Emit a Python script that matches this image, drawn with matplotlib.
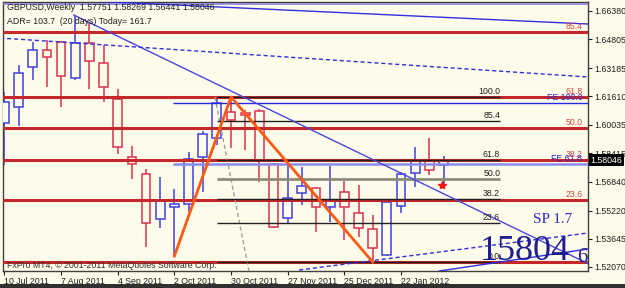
import matplotlib
matplotlib.use("Agg")
import matplotlib.pyplot as plt
from matplotlib import transforms

# GBPUSD weekly candles, index 0 = week of 10 Jul 2011
opens = [1.60119, 1.61014, 1.63250, 1.64200, 1.64647, 1.62635, 1.64591, 1.63473,
         1.61461, 1.58219, 1.57268, 1.54753, 1.55424, 1.55591, 1.58219, 1.59281,
         1.60734, 1.60678, 1.60790, 1.57827, 1.54809, 1.56206, 1.56486, 1.55424,
         1.56262, 1.55088, 1.54194, 1.52740, 1.55479, 1.57324, 1.57995, 1.57751]
highs = [1.61852, 1.63361, 1.64647, 1.64759, 1.64703, 1.66156, 1.65709, 1.64479,
         1.62020, 1.58833, 1.57548, 1.57101, 1.56430, 1.58498, 1.59672, 1.61517,
         1.61573, 1.60846, 1.60902, 1.57883, 1.57883, 1.57660, 1.56542, 1.57715,
         1.56877, 1.56653, 1.54976, 1.55815, 1.57380, 1.58778, 1.59281, 1.58269]
lows = [1.57771, 1.59951, 1.62523, 1.62132, 1.61014, 1.62523, 1.62020, 1.61293,
        1.58386, 1.56989, 1.53188, 1.54250, 1.52684, 1.55144, 1.56262, 1.58889,
        1.58722, 1.58610, 1.56821, 1.54250, 1.54529, 1.55535, 1.54026, 1.54585,
        1.53579, 1.53747, 1.52349, 1.52684, 1.55088, 1.56542, 1.57212, 1.56441]
closes = [1.61293, 1.62914, 1.64200, 1.63809, 1.62746, 1.64591, 1.63585, 1.62132,
          1.58778, 1.57827, 1.54529, 1.55815, 1.55591, 1.58107, 1.59504, 1.61237,
          1.60287, 1.60566, 1.57995, 1.54306, 1.55927, 1.56597, 1.55424, 1.55815,
          1.55424, 1.54250, 1.53132, 1.55703, 1.57268, 1.57995, 1.57492, 1.58046]

date_ticks = [0, 4, 8, 12, 16, 20, 24, 28]
date_labels = ["10 Jul 2011", "7 Aug 2011", "4 Sep 2011", "2 Oct 2011",
               "30 Oct 2011", "27 Nov 2011", "25 Dec 2011", "22 Jan 2012"]
price_ticks = [1.66380, 1.64805, 1.63185, 1.61610, 1.60035,
               1.58415, 1.56840, 1.55220, 1.53645, 1.52070]
last_price = 1.58046

# big red fibo (full width)
red_fib_levels = [1.65206, 1.61573, 1.59840, 1.58050, 1.55815, 1.52349]
red_fib_labels = ["85.4", "61.8", "50.0", "38.2", "23.6", ""]
# small black fibo (weeks 15..35)
blk_fib_levels = [1.61573, 1.60231, 1.58051, 1.56961, 1.55871, 1.54529, 1.52349]
blk_fib_labels = ["100.0", "85.4", "61.8", "50.0", "38.2", "23.6", "0.0"]
# fibo expansion
fe_levels = [1.61237, 1.57827]
fe_labels = ["FE 100.0", "FE 61.8"]
# zigzag: low wk12 -> high wk16 -> low wk26
zz_x = [12, 16, 26]
zz_y = [1.52684, 1.61573, 1.52349]

BG = "#fdfbe9"
BULL = "#4040dc"
BEAR = "#dc3050"
RED = "#c42828"
SMALL = "Liberation Sans"
YMIN, YMAX = 1.51846, 1.66883
XMIN, XMAX = -0.1, 41.2

plt.rcParams["font.family"] = [SMALL, "DejaVu Sans"]

fig = plt.figure(figsize=(6.25, 2.88), dpi=100, facecolor=BG)
ax = fig.add_axes([3 / 625, 17 / 288, 585 / 625, 269 / 288], facecolor=BG)
ax.set_xlim(XMIN, XMAX)
ax.set_ylim(YMIN, YMAX)

# candles
xs = list(range(len(opens)))
cols = [BULL if c >= o else BEAR for o, c in zip(opens, closes)]
ax.vlines(xs, lows, highs, colors=cols, lw=1.1, zorder=2)
bottoms = [min(o, c) for o, c in zip(opens, closes)]
heights = [max(abs(c - o), 0.00012) for o, c in zip(opens, closes)]
ax.bar(xs, heights, bottom=bottoms, width=0.62, facecolor=BG,
       edgecolor=cols, lw=1.1, zorder=3)

# horizontal objects
ax.axhline(1.66771, color="#8a80d8", lw=1.2, zorder=4)
for lv, lb in zip(red_fib_levels, red_fib_labels):
    ax.axhline(lv, color=RED, lw=2.2, zorder=4)
    if lb:
        ax.text(40.8, lv + 0.0006, lb, color="#d04848", fontsize=6.3,
                ha="right", va="bottom", zorder=6)
for lv, lb in zip(blk_fib_levels, blk_fib_labels):
    c, w = ("#8c8c78", 2.0) if lb == "50.0" else ("#202020", 1.0)
    ax.hlines(lv, 15, 35, color=c, lw=w, zorder=5)
    ax.text(35, lv + 0.0008, lb, color="#202020", fontsize=6.3,
            ha="right", va="bottom", zorder=6)
ax.hlines(fe_levels[0], 11.9, XMAX, color="#2828e0", lw=1.0, zorder=5)
ax.hlines(fe_levels[1], 11.9, XMAX, color="#8c8cf0", lw=1.8, zorder=5)
for lv, lb in zip(fe_levels, fe_labels):
    ax.text(40.8, lv + 0.0004, lb, color="#2828e0", fontsize=6.3,
            ha="right", va="bottom", zorder=6)

# trend lines
ax.plot([4.9, 41.2], [1.66156, 1.52260], color="#4848e0", lw=1.0, zorder=5)
ax.plot([6.0, 41.2], [1.66939, 1.65653], color="#3030e0", lw=1.0, zorder=5)
ax.plot([-0.3, 41.2], [1.64871, 1.62691], color="#3030e0", lw=1.0, ls=(0, (3, 2)), zorder=5)
ax.plot([20.8, 41.2], [1.51902, 1.53970], color="#3030e0", lw=1.0, ls=(0, (3, 2)), zorder=5)
ax.plot([30.7, 41.2], [1.51846, 1.53076], color="#3030e0", lw=1.0, zorder=5)
ax.plot([14.86, 17.26], [1.61573, 1.51846], color="#a0a098", lw=1.0, ls=(0, (3, 2)), zorder=4)

# zigzag
ax.plot(zz_x, zz_y, color="#ff5a14", lw=2.0, zorder=6)
ax.plot([30.9], [1.56653], marker="*", color="#ff1010", ms=6, zorder=7)

# texts
ax.text(0.007, 0.978, "GBPUSD,Weekly  1.57751 1.58269 1.56441 1.58046",
        transform=ax.transAxes, fontsize=6.3, color="#202020", va="center", zorder=8)
ax.text(0.007, 0.926, "ADR= 103.7  (20 days) Today= 161.7",
        transform=ax.transAxes, fontsize=6.3, color="#202020", va="center", zorder=8)
ax.text(0.007, 0.019, "FxPro MT4, \u00a9 2001-2011 MetaQuotes Software Corp.",
        transform=ax.transAxes, fontsize=6.3, color="#303030", va="center", zorder=8)
ax.text(0.906, 0.19, "SP 1.7", transform=ax.transAxes, family="Liberation Serif",
        fontsize=11, color="#2a2ad0", va="center", zorder=8)
ax.text(0.815, 0.041, "15804", transform=ax.transAxes, family="Liberation Serif",
        fontsize=26, color="#1e1e90", va="baseline", zorder=8)
ax.text(0.981, 0.033, "6", transform=ax.transAxes, family="Liberation Serif",
        fontsize=15, color="#1e1e90", va="baseline", zorder=8)

# axes
ax.yaxis.tick_right()
ax.set_yticks(price_ticks)
ax.set_yticklabels([f"{p:.5f}" for p in price_ticks])
ax.set_xticks(date_ticks)
ax.set_xticklabels(date_labels, ha="left")
ax.tick_params(axis="both", labelsize=6.3, length=3, width=0.8, pad=1.5, colors="#202020")
for s in ax.spines.values():
    s.set_color("#404040")
    s.set_linewidth(1.0)

# current price tag
tr = transforms.blended_transform_factory(ax.transAxes, ax.transData)
ax.text(1.004, last_price, f"{last_price:.5f}", transform=tr, fontsize=6.3,
        color="white", va="center", ha="left", clip_on=False, zorder=9,
        bbox=dict(facecolor="black", edgecolor="none", pad=1.0))

# dark frame strip at the bottom
fig.patches.append(plt.Rectangle((0, 0), 1, 4 / 288, transform=fig.transFigure,
                                 facecolor="#303030", edgecolor="none"))

fig.savefig("out.png", dpi=100, facecolor=BG)
